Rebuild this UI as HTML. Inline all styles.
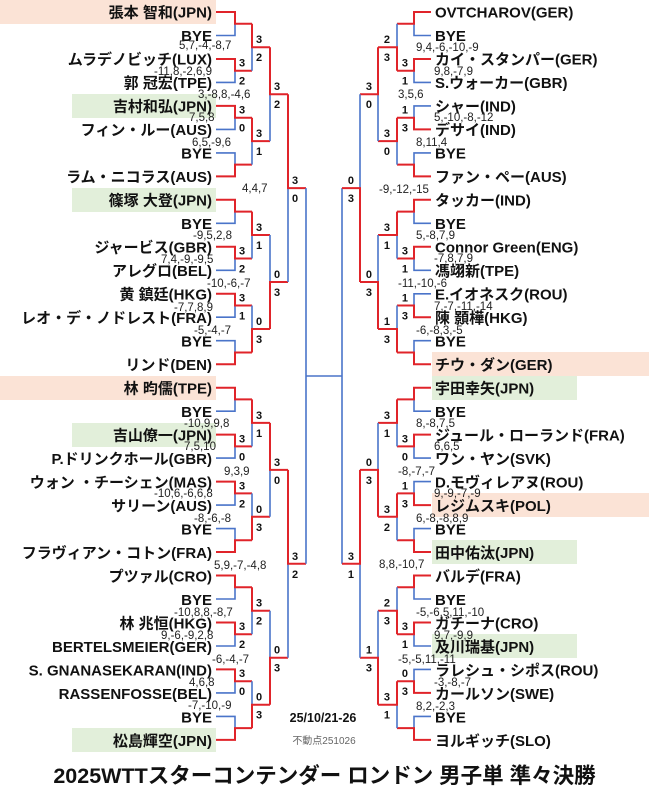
<!DOCTYPE html>
<html><head><meta charset="utf-8"><style>
html,body{margin:0;padding:0;background:#fff;}
svg{display:block;font-family:"Liberation Sans","Noto Sans CJK JP",sans-serif;}
.n{font-size:15px;font-weight:bold;fill:#111;}
.s{font-size:11px;font-weight:bold;fill:#111;}
.g{font-size:11.5px;fill:#222;}
.r{stroke:#e0242a;stroke-width:2;fill:none;}
.b{stroke:#4a74c9;stroke-width:1.6;fill:none;}
</style></head><body>
<svg width="649" height="800" viewBox="0 0 649 800" xmlns="http://www.w3.org/2000/svg">
<!-- highlights -->
<g>
<rect x="0" y="0" width="216" height="24" fill="#fbe3d6"/>
<rect x="72" y="94" width="144" height="24" fill="#e2efda"/>
<rect x="72" y="188" width="144" height="24" fill="#e2efda"/>
<rect x="0" y="376" width="216" height="24" fill="#fbe3d6"/>
<rect x="72" y="423" width="144" height="24" fill="#e2efda"/>
<rect x="72" y="728" width="144" height="24" fill="#e2efda"/>
<rect x="432" y="352" width="217" height="24" fill="#fbe3d6"/>
<rect x="432" y="376" width="145" height="24" fill="#e2efda"/>
<rect x="432" y="493" width="217" height="24" fill="#fbe3d6"/>
<rect x="432" y="540" width="145" height="24" fill="#e2efda"/>
<rect x="432" y="634" width="145" height="24" fill="#e2efda"/>
</g>
<!-- LEFT lines R1 -->
<path class="b" d="M216 35.5H235V23.7 M216 82.4H235V70.7 M216 129.4H235V117.7 M216 152.9H235V164.6 M216 223.3H235V211.6 M216 270.3H235V258.5 M216 317.2H235V305.5 M216 340.7H235V352.5 M216 411.2H235V399.4 M216 458.1H235V446.4 M216 505.1H235V493.4 M216 528.6H235V540.3 M216 599H235V587.3 M216 646H235V634.2 M216 692.9H235V681.2 M216 716.4H235V728.1"/>
<path class="r" d="M216 12H235V23.7H252 M216 59H235V70.7H252 M216 105.9H235V117.7H252 M216 176.4H235V164.6H252 M216 199.8H235V211.6H252 M216 246.8H235V258.5H252 M216 293.8H235V305.5H252 M216 364.2H235V352.5H252 M216 387.7H235V399.4H252 M216 434.6H235V446.4H252 M216 481.6H235V493.4H252 M216 552H235V540.3H252 M216 575.5H235V587.3H252 M216 622.5H235V634.2H252 M216 669.4H235V681.2H252 M216 739.9H235V728.1H252"/>
<!-- LEFT R2 -->
<path class="b" d="M252 70.7V47.2 M252 164.6V141.1 M252 258.5V235 M252 305.5V329 M252 446.4V422.9 M252 493.4V516.8 M252 634.2V610.7 M252 681.2V704.7"/>
<path class="r" d="M252 23.7V47.2H270 M252 117.7V141.1H270 M252 211.6V235H270 M252 352.5V329H270 M252 399.4V422.9H270 M252 540.3V516.8H270 M252 587.3V610.7H270 M252 728.1V704.7H270"/>
<!-- LEFT R3 -->
<path class="b" d="M270 141.1V94.2 M270 235V282 M270 516.8V469.9 M270 610.7V657.7"/>
<path class="r" d="M270 47.2V94.2H288 M270 329V282H288 M270 422.9V469.9H288 M270 704.7V657.7H288"/>
<!-- LEFT R4 -->
<path class="b" d="M288 282V188.1 M288 657.7V563.8"/>
<path class="r" d="M288 94.2V188.1H306 M288 469.9V563.8H306"/>
<!-- CENTER -->
<path class="b" d="M306 188.1V563.8 M306 376H342 M342 188.1V563.8"/>
<!-- RIGHT R1 -->
<path class="b" d="M431 35.5H414V23.7 M431 82.4H414V70.7 M431 105.9H414V117.7 M431 152.9H414V164.6 M431 223.3H414V211.6 M431 270.3H414V258.5 M431 293.8H414V305.5 M431 340.7H414V352.5 M431 411.2H414V399.4 M431 458.1H414V446.4 M431 481.6H414V493.4 M431 528.6H414V540.3 M431 599H414V587.3 M431 646H414V634.2 M431 669.4H414V681.2 M431 716.4H414V728.1"/>
<path class="r" d="M431 12H414V23.7H397 M431 59H414V70.7H397 M431 129.4H414V117.7H397 M431 176.4H414V164.6H397 M431 199.8H414V211.6H397 M431 246.8H414V258.5H397 M431 317.2H414V305.5H397 M431 364.2H414V352.5H397 M431 387.7H414V399.4H397 M431 434.6H414V446.4H397 M431 505.1H414V493.4H397 M431 552H414V540.3H397 M431 575.5H414V587.3H397 M431 622.5H414V634.2H397 M431 692.9H414V681.2H397 M431 739.9H414V728.1H397"/>
<!-- RIGHT R2 -->
<path class="b" d="M397 23.7V47.2 M397 164.6V141.1 M397 258.5V235 M397 305.5V329 M397 446.4V422.9 M397 540.3V516.8 M397 587.3V610.7 M397 728.1V704.7"/>
<path class="r" d="M397 70.7V47.2H378 M397 117.7V141.1H378 M397 211.6V235H378 M397 352.5V329H378 M397 399.4V422.9H378 M397 493.4V516.8H378 M397 634.2V610.7H378 M397 681.2V704.7H378"/>
<!-- RIGHT R3 -->
<path class="b" d="M378 141.1V94.2 M378 235V282 M378 422.9V469.9 M378 610.7V657.7"/>
<path class="r" d="M378 47.2V94.2H360 M378 329V282H360 M378 516.8V469.9H360 M378 704.7V657.7H360"/>
<!-- RIGHT R4 -->
<path class="b" d="M360 94.2V188.1 M360 657.7V563.8"/>
<path class="r" d="M360 282V188.1H342 M360 469.9V563.8H342"/>

<!-- LEFT names -->
<g class="n" text-anchor="end">
<text x="212" y="17.5">張本 智和(JPN)</text>
<text x="212" y="41">BYE</text>
<text x="212" y="64.5">ムラデノビッチ(LUX)</text>
<text x="212" y="88">郭 冠宏(TPE)</text>
<text x="212" y="111.5">吉村和弘(JPN)</text>
<text x="212" y="135">フィン・ルー(AUS)</text>
<text x="212" y="158.5">BYE</text>
<text x="212" y="182">ラム・ニコラス(AUS)</text>
<text x="212" y="205.5">篠塚 大登(JPN)</text>
<text x="212" y="229">BYE</text>
<text x="212" y="252.5">ジャービス(GBR)</text>
<text x="212" y="276">アレグロ(BEL)</text>
<text x="212" y="299.5">黄 鎮廷(HKG)</text>
<text x="212" y="323">レオ・デ・ノドレスト(FRA)</text>
<text x="212" y="346.5">BYE</text>
<text x="212" y="370">リンド(DEN)</text>
<text x="212" y="393.5">林 昀儒(TPE)</text>
<text x="212" y="417">BYE</text>
<text x="212" y="440.5">吉山僚一(JPN)</text>
<text x="212" y="464">P.ドリンクホール(GBR)</text>
<text x="212" y="487.5">ウォン ・チーシェン(MAS)</text>
<text x="212" y="511">サリーン(AUS)</text>
<text x="212" y="534.5">BYE</text>
<text x="212" y="558">フラヴィアン・コトン(FRA)</text>
<text x="212" y="581.5">プツァル(CRO)</text>
<text x="212" y="605">BYE</text>
<text x="212" y="628.5">林 兆恒(HKG)</text>
<text x="212" y="652">BERTELSMEIER(GER)</text>
<text x="212" y="675.5">S. GNANASEKARAN(IND)</text>
<text x="212" y="699">RASSENFOSSE(BEL)</text>
<text x="212" y="722.5">BYE</text>
<text x="212" y="746">松島輝空(JPN)</text>
</g>
<!-- RIGHT names -->
<g class="n">
<text x="435" y="17.5">OVTCHAROV(GER)</text>
<text x="435" y="41">BYE</text>
<text x="435" y="64.5">カイ・スタンパー(GER)</text>
<text x="435" y="88">S.ウォーカー(GBR)</text>
<text x="435" y="111.5">シャー(IND)</text>
<text x="435" y="135">デサイ(IND)</text>
<text x="435" y="158.5">BYE</text>
<text x="435" y="182">ファン・ペー(AUS)</text>
<text x="435" y="205.5">タッカー(IND)</text>
<text x="435" y="229">BYE</text>
<text x="435" y="252.5">Connor Green(ENG)</text>
<text x="435" y="276">馮翊新(TPE)</text>
<text x="435" y="299.5">E.イオネスク(ROU)</text>
<text x="435" y="323">陳 顥樺(HKG)</text>
<text x="435" y="346.5">BYE</text>
<text x="435" y="370">チウ・ダン(GER)</text>
<text x="435" y="393.5">宇田幸矢(JPN)</text>
<text x="435" y="417">BYE</text>
<text x="435" y="440.5">ジュール・ローランド(FRA)</text>
<text x="435" y="464">ワン・ヤン(SVK)</text>
<text x="435" y="487.5">D.モヴィレアヌ(ROU)</text>
<text x="435" y="511">レジムスキ(POL)</text>
<text x="435" y="534.5">BYE</text>
<text x="435" y="558">田中佑汰(JPN)</text>
<text x="435" y="581.5">バルデ(FRA)</text>
<text x="435" y="605">BYE</text>
<text x="435" y="628.5">ガチーナ(CRO)</text>
<text x="435" y="652">及川瑞基(JPN)</text>
<text x="435" y="675.5">ラレシュ・シポス(ROU)</text>
<text x="435" y="699">カールソン(SWE)</text>
<text x="435" y="722.5">BYE</text>
<text x="435" y="746">ヨルギッチ(SLO)</text>
</g>

<!-- LEFT set scores -->
<g class="s">
<text x="239" y="66.7">3</text><text x="239" y="84.7">2</text>
<text x="239" y="113.7">3</text><text x="239" y="131.7">0</text>
<text x="239" y="254.5">3</text><text x="239" y="272.5">2</text>
<text x="239" y="301.5">3</text><text x="239" y="319.5">1</text>
<text x="239" y="442.4">3</text><text x="239" y="460.4">0</text>
<text x="239" y="489.4">3</text><text x="239" y="507.4">2</text>
<text x="239" y="630.2">3</text><text x="239" y="648.2">2</text>
<text x="239" y="677.2">3</text><text x="239" y="695.2">0</text>
<text x="256" y="43.2">3</text><text x="256" y="61.2">2</text>
<text x="256" y="137.1">3</text><text x="256" y="155.1">1</text>
<text x="256" y="231">3</text><text x="256" y="249">1</text>
<text x="256" y="325">0</text><text x="256" y="343">3</text>
<text x="256" y="418.9">3</text><text x="256" y="436.9">1</text>
<text x="256" y="512.8">0</text><text x="256" y="530.8">3</text>
<text x="256" y="606.7">3</text><text x="256" y="624.7">2</text>
<text x="256" y="700.7">0</text><text x="256" y="718.7">3</text>
<text x="274" y="90.2">3</text><text x="274" y="108.2">2</text>
<text x="274" y="278">0</text><text x="274" y="296">3</text>
<text x="274" y="465.9">3</text><text x="274" y="483.9">0</text>
<text x="274" y="653.7">0</text><text x="274" y="671.7">3</text>
<text x="292" y="184.1">3</text><text x="292" y="202.1">0</text>
<text x="292" y="559.8">3</text><text x="292" y="577.8">2</text>
</g>
<!-- RIGHT set scores -->
<g class="s" text-anchor="end">
<text x="408" y="66.7">3</text><text x="408" y="84.7">1</text>
<text x="408" y="113.7">1</text><text x="408" y="131.7">3</text>
<text x="408" y="254.5">3</text><text x="408" y="272.5">1</text>
<text x="408" y="301.5">1</text><text x="408" y="319.5">3</text>
<text x="408" y="442.4">3</text><text x="408" y="460.4">0</text>
<text x="408" y="489.4">1</text><text x="408" y="507.4">3</text>
<text x="408" y="630.2">3</text><text x="408" y="648.2">1</text>
<text x="408" y="677.2">0</text><text x="408" y="695.2">3</text>
<text x="390" y="43.2">2</text><text x="390" y="61.2">3</text>
<text x="390" y="137.1">3</text><text x="390" y="155.1">0</text>
<text x="390" y="231">3</text><text x="390" y="249">1</text>
<text x="390" y="325">1</text><text x="390" y="343">3</text>
<text x="390" y="418.9">3</text><text x="390" y="436.9">1</text>
<text x="390" y="512.8">3</text><text x="390" y="530.8">2</text>
<text x="390" y="606.7">2</text><text x="390" y="624.7">3</text>
<text x="390" y="700.7">3</text><text x="390" y="718.7">1</text>
<text x="372" y="90.2">3</text><text x="372" y="108.2">0</text>
<text x="372" y="278">0</text><text x="372" y="296">3</text>
<text x="372" y="465.9">0</text><text x="372" y="483.9">3</text>
<text x="372" y="653.7">1</text><text x="372" y="671.7">3</text>
<text x="354" y="184.1">0</text><text x="354" y="202.1">3</text>
<text x="354" y="559.8">3</text><text x="354" y="577.8">1</text>
</g>

<!-- LEFT game scores -->
<g class="g">
<text x="179" y="49">5,7,-4,-8,7</text>
<text x="154" y="75">-11,8,-2,6,9</text>
<text x="198" y="98">3,-8,8,-4,6</text>
<text x="189" y="121">7,5,8</text>
<text x="192" y="146">6,5,-9,6</text>
<text x="242" y="192">4,4,7</text>
<text x="193" y="239">-9,5,2,8</text>
<text x="161" y="263">7,4,-9,-9,5</text>
<text x="207" y="287">-10,-6,-7</text>
<text x="174" y="311">-7,7,8,9</text>
<text x="194" y="334">-5,-4,-7</text>
<text x="184" y="427">-10,9,9,8</text>
<text x="184" y="450">7,5,10</text>
<text x="224" y="475">9,3,9</text>
<text x="154" y="497">-10,6,-6,6,8</text>
<text x="194" y="522">-8,-6,-8</text>
<text x="214" y="569">5,9,-7,-4,8</text>
<text x="174" y="616">-10,8,8,-8,7</text>
<text x="161" y="639">9,-6,-9,2,8</text>
<text x="212" y="663">-6,-4,-7</text>
<text x="189" y="686">4,6,8</text>
<text x="188" y="709">-7,-10,-9</text>
</g>
<!-- RIGHT game scores -->
<g class="g">
<text x="416" y="51">9,4,-6,-10,-9</text>
<text x="434" y="75">9,8,-7,9</text>
<text x="398" y="98">3,5,6</text>
<text x="434" y="121">5,-10,-8,-12</text>
<text x="416" y="146">8,11,4</text>
<text x="379" y="193">-9,-12,-15</text>
<text x="416" y="239">5,-8,7,9</text>
<text x="434" y="262">-7,8,7,9</text>
<text x="398" y="287">-11,-10,-6</text>
<text x="434" y="310">7,-7,-11,-14</text>
<text x="416" y="334">-6,-8,3,-5</text>
<text x="416" y="427">8,-8,7,5</text>
<text x="434" y="450">6,6,5</text>
<text x="398" y="475">-8,-7,-7</text>
<text x="434" y="497">9,-9,-7,-9</text>
<text x="416" y="522">6,-8,-8,8,9</text>
<text x="379" y="568">8,8,-10,7</text>
<text x="416" y="616">-5,-6,5,11,-10</text>
<text x="434" y="639">9,7,-9,9</text>
<text x="398" y="663">-5,-5,11,-11</text>
<text x="434" y="686">-3,-8,-7</text>
<text x="416" y="710">8,2,-2,3</text>
</g>

<text x="323" y="722" text-anchor="middle" font-size="12.5" font-weight="bold" fill="#111">25/10/21-26</text>
<text x="324" y="744" text-anchor="middle" font-size="10" fill="#666">不動点251026</text>
<text x="324.5" y="783" text-anchor="middle" font-size="21.5" font-weight="bold" fill="#111">2025WTTスターコンテンダー ロンドン 男子単 準々決勝</text>
</svg>
</body></html>
